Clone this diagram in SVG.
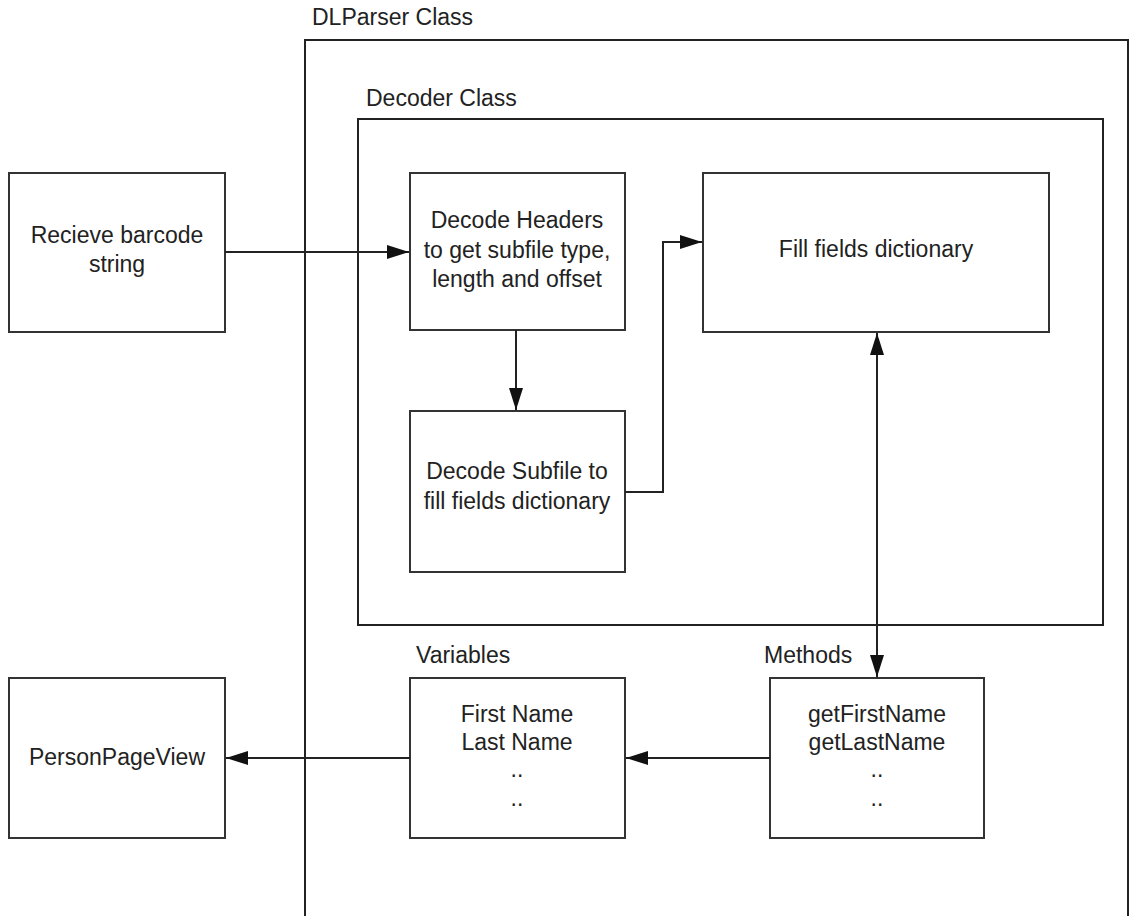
<svg xmlns="http://www.w3.org/2000/svg" width="1129" height="916" viewBox="0 0 1129 916">
<style>
.box{fill:#fff;stroke:#333;stroke-width:2}
.frame{fill:none;stroke:#222;stroke-width:2}
.t{font-family:"Liberation Sans",Arial,sans-serif;font-size:23px;fill:#222;text-anchor:middle}
.l{font-family:"Liberation Sans",Arial,sans-serif;font-size:23px;fill:#222}
.c{fill:none;stroke:#222;stroke-width:2}
</style>
<defs>
<marker id="ah" viewBox="0 0 22 14" refX="22" refY="7" markerWidth="22" markerHeight="14" markerUnits="userSpaceOnUse" orient="auto-start-reverse">
<path d="M0,0 L22,7 L0,14 Z" fill="#111"/>
</marker>
</defs>
<rect width="1129" height="916" fill="#fff"/>
<g id="dlparser">
<path class="frame" d="M305,920 L305,40 L1128,40 L1128,920"/>
<text class="l" x="312" y="25">DLParser Class</text>
</g>
<g id="decoder">
<rect class="frame" x="358" y="119" width="745" height="506"/>
<text class="l" x="366" y="106">Decoder Class</text>
</g>
<g id="receive">
<rect class="box" x="9" y="173" width="216" height="159"/>
<text class="t" x="117" y="243">Recieve barcode</text>
<text class="t" x="117" y="272">string</text>
</g>
<g id="headers">
<rect class="box" x="410" y="173" width="215" height="157"/>
<text class="t" x="517" y="228">Decode Headers</text>
<text class="t" x="517" y="258">to get subfile type,</text>
<text class="t" x="517" y="287">length and offset</text>
</g>
<g id="fill">
<rect class="box" x="703" y="173" width="346" height="159"/>
<text class="t" x="876" y="257">Fill fields dictionary</text>
</g>
<g id="subfile">
<rect class="box" x="410" y="411" width="215" height="161"/>
<text class="t" x="517" y="479">Decode Subfile to</text>
<text class="t" x="517" y="509">fill fields dictionary</text>
</g>
<g id="person">
<rect class="box" x="9" y="678" width="216" height="160"/>
<text class="t" x="117" y="765">PersonPageView</text>
</g>
<g id="variables">
<rect class="box" x="410" y="678" width="215" height="160"/>
<text class="l" x="416" y="663">Variables</text>
<text class="t" x="517" y="722">First Name</text>
<text class="t" x="517" y="750">Last Name</text>
<text class="t" x="517" y="777">..</text>
<text class="t" x="517" y="806">..</text>
</g>
<g id="methods">
<rect class="box" x="770" y="678" width="214" height="160"/>
<text class="l" x="764" y="663">Methods</text>
<text class="t" x="877" y="722">getFirstName</text>
<text class="t" x="877" y="750">getLastName</text>
<text class="t" x="877" y="777">..</text>
<text class="t" x="877" y="806">..</text>
</g>
<g id="connectors">
<path class="c" d="M225,252 L409,252" marker-end="url(#ah)"/>
<path class="c" d="M516,330 L516,410" marker-end="url(#ah)"/>
<path class="c" d="M625,492 L663,492 L663,242 L702,242" marker-end="url(#ah)"/>
<path class="c" d="M877,333 L877,677" marker-start="url(#ah)" marker-end="url(#ah)"/>
<path class="c" d="M770,758 L626,758" marker-end="url(#ah)"/>
<path class="c" d="M410,758 L226,758" marker-end="url(#ah)"/>
</g>
</svg>
